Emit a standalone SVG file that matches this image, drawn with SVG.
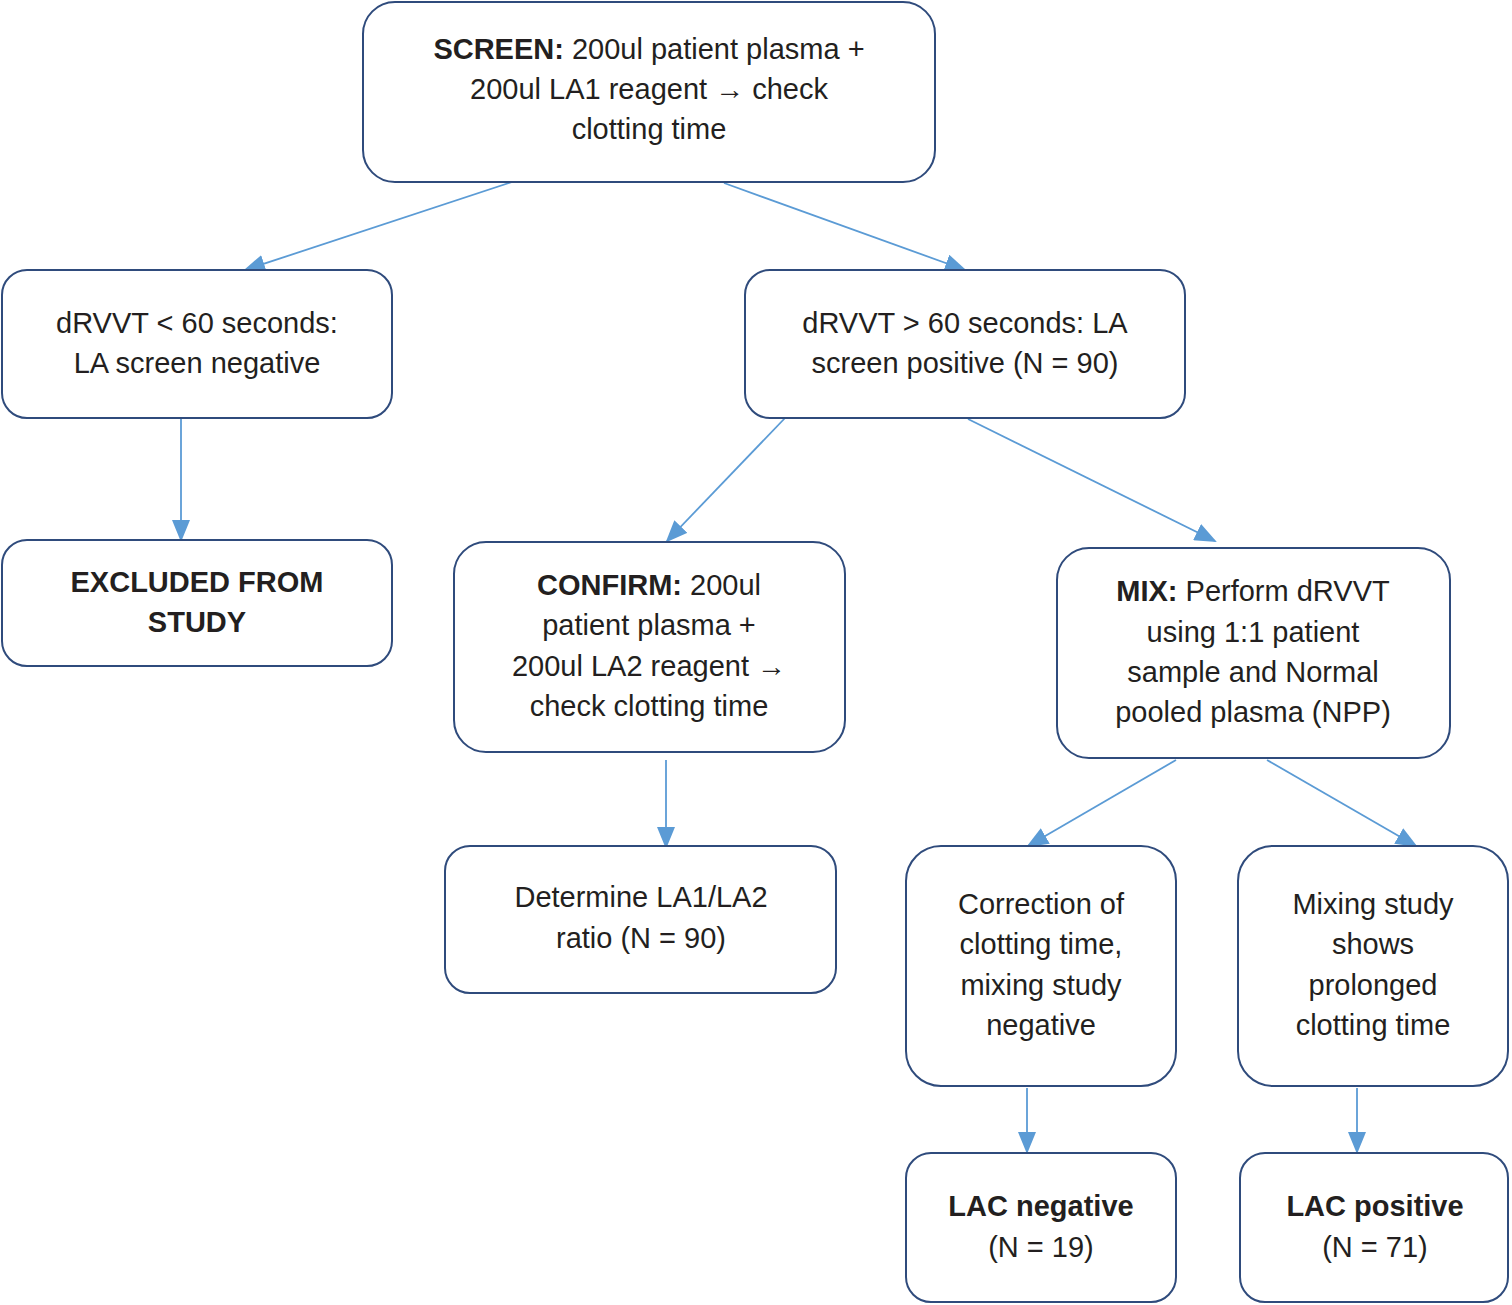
<svg xmlns="http://www.w3.org/2000/svg" width="1512" height="1305" viewBox="0 0 1512 1305">
<style>
.box{fill:#fff;stroke:#2f4b7c;stroke-width:2}
text{font-family:"Liberation Sans",Arial,sans-serif;font-size:29px;fill:#231f20;text-anchor:middle}
.b{font-weight:bold}
.c{stroke:#5b9bd5;stroke-width:1.8;fill:none;marker-end:url(#a)}
</style>
<defs><marker id="a" markerUnits="userSpaceOnUse" markerWidth="22" markerHeight="18" refX="20" refY="9" orient="auto"><path d="M0,0L22,9L0,18z" fill="#5b9bd5"/></marker></defs>
<rect width="1512" height="1305" fill="#fff"/>
<g id="connectors">
<line class="c" x1="512" y1="182" x2="245" y2="270"/>
<line class="c" x1="724" y1="183" x2="965" y2="270"/>
<line class="c" x1="181" y1="416" x2="181" y2="540"/>
<line class="c" x1="786" y1="417" x2="667" y2="541"/>
<line class="c" x1="968" y1="419" x2="1215" y2="541"/>
<line class="c" x1="666" y1="760" x2="666" y2="847"/>
<line class="c" x1="1176" y1="760" x2="1028" y2="846"/>
<line class="c" x1="1267" y1="760" x2="1416" y2="846"/>
<line class="c" x1="1027" y1="1088" x2="1027" y2="1152"/>
<line class="c" x1="1357" y1="1088" x2="1357" y2="1152"/>
</g>
<g id="screen"><rect class="box" x="363" y="2" width="572" height="180" rx="32"/>
<text x="649" y="59"><tspan class="b">SCREEN:</tspan> 200ul patient plasma +</text>
<text x="649" y="99">200ul LA1 reagent → check</text>
<text x="649" y="139">clotting time</text></g>
<g id="neg"><rect class="box" x="2" y="270" width="390" height="148" rx="25"/>
<text x="197" y="333">dRVVT &lt; 60 seconds:</text><text x="197" y="373">LA screen negative</text></g>
<g id="pos"><rect class="box" x="745" y="270" width="440" height="148" rx="25"/>
<text x="965" y="333">dRVVT &gt; 60 seconds: LA</text><text x="965" y="373">screen positive (N = 90)</text></g>
<g id="excluded"><rect class="box" x="2" y="540" width="390" height="126" rx="25"/>
<text class="b" x="197" y="592">EXCLUDED FROM</text><text class="b" x="197" y="632">STUDY</text></g>
<g id="confirm"><rect class="box" x="454" y="542" width="391" height="210" rx="32"/>
<text x="649" y="595"><tspan class="b">CONFIRM:</tspan> 200ul</text>
<text x="649" y="635">patient plasma +</text>
<text x="649" y="676">200ul LA2 reagent →</text>
<text x="649" y="716">check clotting time</text></g>
<g id="mix"><rect class="box" x="1057" y="548" width="393" height="210" rx="32"/>
<text x="1253" y="601"><tspan class="b">MIX:</tspan>  Perform dRVVT</text>
<text x="1253" y="642">using 1:1 patient</text>
<text x="1253" y="682">sample and Normal</text>
<text x="1253" y="722">pooled plasma (NPP)</text></g>
<g id="determine"><rect class="box" x="445" y="846" width="391" height="147" rx="25"/>
<text x="641" y="907">Determine LA1/LA2</text><text x="641" y="948">ratio (N = 90)</text></g>
<g id="correction"><rect class="box" x="906" y="846" width="270" height="240" rx="35"/>
<text x="1041" y="914">Correction of</text><text x="1041" y="954">clotting time,</text>
<text x="1041" y="995">mixing study</text><text x="1041" y="1035">negative</text></g>
<g id="mixing"><rect class="box" x="1238" y="846" width="270" height="240" rx="35"/>
<text x="1373" y="914">Mixing study</text><text x="1373" y="954">shows</text>
<text x="1373" y="995">prolonged</text><text x="1373" y="1035">clotting time</text></g>
<g id="lacneg"><rect class="box" x="906" y="1153" width="270" height="149" rx="25"/>
<text class="b" x="1041" y="1216">LAC negative</text><text x="1041" y="1257">(N = 19)</text></g>
<g id="lacpos"><rect class="box" x="1240" y="1153" width="268" height="149" rx="25"/>
<text class="b" x="1375" y="1216">LAC positive</text><text x="1375" y="1257">(N = 71)</text></g>
</svg>
